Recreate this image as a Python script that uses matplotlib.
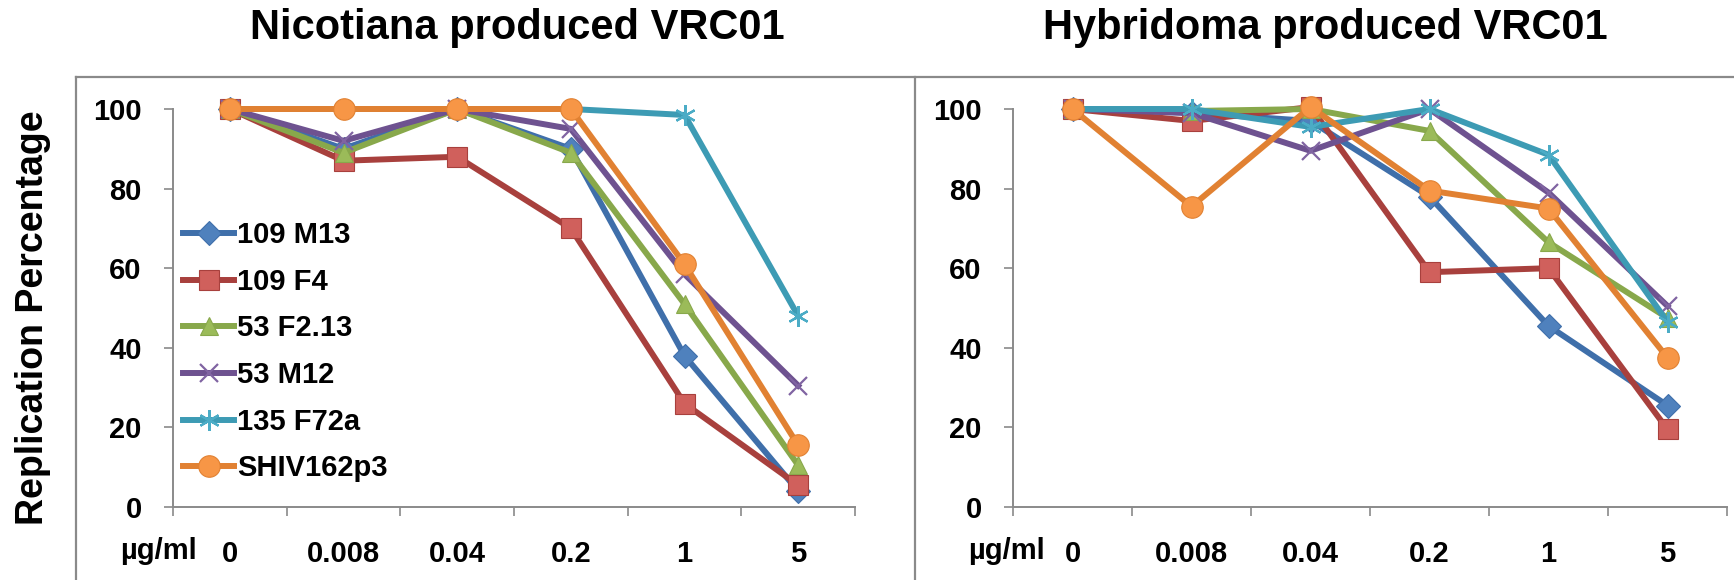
import matplotlib.pyplot as plt
from matplotlib.lines import Line2D

# dosis de anticuerpo (ug/ml) y porcentaje de replicacion por virus
dosis = ["0", "0.008", "0.04", "0.2", "1", "5"]
virus = ["109 M13", "109 F4", "53 F2.13", "53 M12", "135 F72a", "SHIV162p3"]

# VRC01 producido en Nicotiana
nic_109M13 = [100, 90, 100, 90, 38, 4]
nic_109F4 = [100, 87, 88, 70, 26, 5.5]
nic_53F213 = [100, 89, 100, 89, 51, 10.5]
nic_53M12 = [100, 92, 100, 95, 58.5, 30.5]
nic_135F72a = [100, 100, 100, 100, 98.5, 48]
nic_SHIV = [100, 100, 100, 100, 61, 15.5]

# VRC01 producido en hibridoma
hib_109M13 = [100, 99, 97, 78, 45.5, 25.5]
hib_109F4 = [100, 97, 100.5, 59, 60, 19.5]
hib_53F213 = [100, 99.5, 100, 94.5, 66.5, 47.5]
hib_53M12 = [100, 99, 89.5, 100, 79, 50.5]
hib_135F72a = [100, 100, 95.5, 100, 88.5, 46.5]
hib_SHIV = [100, 75.5, 100.5, 79.5, 75, 37.5]

nicotiana = [nic_109M13, nic_109F4, nic_53F213, nic_53M12, nic_135F72a, nic_SHIV]
hibridoma = [hib_109M13, hib_109F4, hib_53F213, hib_53M12, hib_135F72a, hib_SHIV]

# estilo tipo Excel 2007
lineas = ["#3F6FAA", "#A8403D", "#88A84B", "#6E5290", "#3D9BB4", "#E18132"]
relleno = ["#4F81BD", "#D0605C", "#9BBB59", "#8064A2", "#4BACC6", "#F79646"]
marcas = ["D", "s", "^", "x", (6, 2, 0), "o"]
tam = [12, 14, 13, 13, 15, 15.5]

gris = "#8A8A8A"
fuente = ["Liberation Sans", "DejaVu Sans"]
plt.rcParams['font.family'] = fuente
plt.rcParams['font.weight'] = 'bold'

W, H = 1734, 580
fig = plt.figure(figsize=(W / 100, H / 100), dpi=100)


def px(x0, x1, y_top, y_bot):
    return [x0 / W, 1 - y_bot / H, (x1 - x0) / W, (y_bot - y_top) / H]


def panel(ax, datos, leyenda=False):
    for k, serie in enumerate(datos):
        abierta = marcas[k] in ("x",) or isinstance(marcas[k], tuple)
        ax.plot(range(len(dosis)), serie, color=lineas[k], lw=4.3,
                marker=marcas[k], ms=tam[k],
                mfc=relleno[k], mec=relleno[k] if abierta else lineas[k],
                mew=1.6 if abierta else 0.8,
                clip_on=False, zorder=3 + k, label=virus[k])
    ax.set_xlim(-0.5, len(dosis) - 0.5)
    ax.set_ylim(0, 100)
    ax.set_yticks(range(0, 101, 20))
    ax.set_xticks(range(len(dosis)))
    ax.set_xticklabels(dosis)
    ax.set_xticks([i - 0.5 for i in range(len(dosis) + 1)], minor=True)
    ax.tick_params(axis='x', which='major', length=0, pad=24, labelsize=21)
    ax.tick_params(axis='x', which='minor', length=6.5, width=1.2, color=gris,
                   direction='out')
    ax.tick_params(axis='y', length=6.5, width=1.2, color=gris, pad=16,
                   labelsize=21)
    for s in ("top", "right"):
        ax.spines[s].set_visible(False)
    for s in ("left", "bottom"):
        ax.spines[s].set_color(gris)
        ax.spines[s].set_linewidth(1.4)
    if leyenda:
        ax.legend(loc='center left', bbox_to_anchor=(0.0147, 0.39),
                  frameon=False, fontsize=21, handlelength=1.75,
                  handletextpad=0.1, labelspacing=0.64, borderpad=0,
                  borderaxespad=0)


ax1 = fig.add_axes(px(173, 855, 109, 507))
panel(ax1, nicotiana, leyenda=True)
ax2 = fig.add_axes(px(1013, 1727, 109, 507))
panel(ax2, hibridoma)

fig.text(517 / W, 1 - 28 / H, "Nicotiana produced VRC01", fontsize=30,
         ha='center', va='center')
fig.text(1325 / W, 1 - 28 / H, "Hybridoma produced VRC01", fontsize=30,
         ha='center', va='center')
fig.text(33 / W, 1 - 318 / H, "Replication Percentage", fontsize=27,
         rotation=90, ha='center', va='center')
fig.text(158 / W, 1 - 551 / H, "µg/ml", fontsize=21, ha='center', va='center')
fig.text(1006 / W, 1 - 551 / H, "µg/ml", fontsize=21, ha='center', va='center')

# marcos de los graficos
for xs, ys in [([76, 76], [77, 580]), ([76, 1734], [77, 77]),
               ([915, 915], [77, 580])]:
    fig.add_artist(Line2D([x / W for x in xs], [1 - y / H for y in ys],
                          color=gris, lw=1.6))

fig.savefig("out.png", dpi=100)
